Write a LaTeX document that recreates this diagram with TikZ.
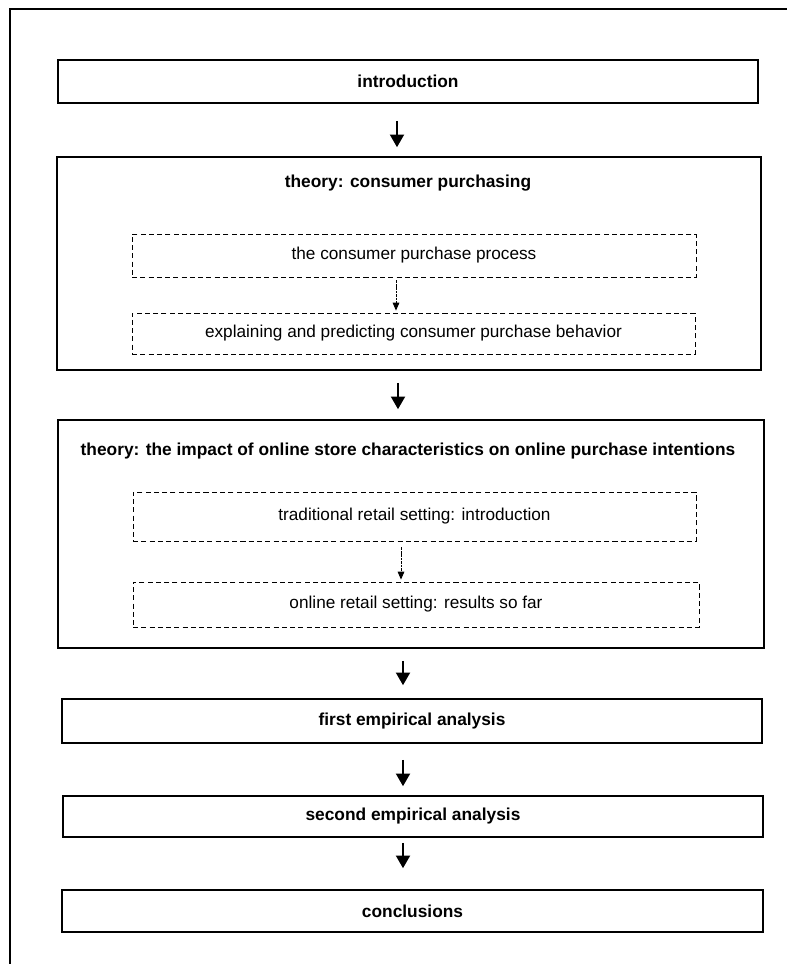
\documentclass[tikz,border=0pt]{standalone}
\usepackage{fontspec}
\setmainfont{Liberation Sans}
\usetikzlibrary{arrows.meta,calc}
\def\pxu{0.75pt}
\tikzset{
  frame/.style={line width=1.5pt},
  mainbox/.style={draw, line width=1.2pt, rectangle, inner sep=0pt},
  subbox/.style={draw, line width=0.6pt, dash pattern=on 3.8pt off 2.4pt, rectangle, inner sep=0pt},
  heading/.style={font=\fontsize{13}{15}\selectfont\bfseries, inner sep=0pt},
  plain/.style={font=\fontsize{12.9}{15}\selectfont, inner sep=0pt},
  flow/.style={line width=1.5pt, -{Triangle[width=10.5pt,length=9.5pt]}},
  subflow/.style={line width=0.7pt, dash pattern=on 2pt off 0.6pt, -{Triangle[width=5pt,length=6pt]}}
}
\begin{document}
\begin{tikzpicture}[x=\pxu, y=-\pxu]
\useasboundingbox (0,0) rectangle (787,964);
% outer frame, open towards the right and bottom
\draw[frame] (10,964) -- (10,9) -- (787,9);

% introduction
\node[mainbox, minimum width=700*\pxu, minimum height=43*\pxu] (intro) at (408,81.5) {};
\node[heading] at (intro) {introduction};

% theory: consumer purchasing
\node[mainbox, minimum width=704*\pxu, minimum height=213*\pxu] (th1) at (409,263.5) {};
\node[heading] (th1t) at (408,183) {theory: consumer purchasing};
\node[subbox, minimum width=564*\pxu, minimum height=43*\pxu] (s1) at (414,255.5) {};
\node[plain] at (s1) {the consumer purchase process};
\node[subbox, minimum width=563*\pxu, minimum height=41*\pxu] (s2) at (413.5,333.5) {};
\node[plain] at (s2) {explaining and predicting consumer purchase behavior};

% theory: online store characteristics
\node[mainbox, minimum width=706*\pxu, minimum height=228*\pxu] (th2) at (411,534) {};
\node[heading] (th2t) at (408,451) {theory: the impact of online store characteristics on online purchase intentions};
\node[subbox, minimum width=563*\pxu, minimum height=49*\pxu] (s3) at (414.5,516.5) {};
\node[plain] at (s3) {traditional retail setting: introduction};
\node[subbox, minimum width=566*\pxu, minimum height=45*\pxu] (s4) at (416,604.5) {};
\node[plain] at (s4) {online retail setting: results so far};

% empirical parts and conclusions
\node[mainbox, minimum width=700*\pxu, minimum height=44*\pxu] (emp1) at (412,721) {};
\node[heading] at (emp1) {first empirical analysis};
\node[mainbox, minimum width=700*\pxu, minimum height=41*\pxu] (emp2) at (413,816.5) {};
\node[heading] at (emp2) {second empirical analysis};
\node[mainbox, minimum width=701*\pxu, minimum height=42*\pxu] (concl) at (412.5,911) {};
\node[heading] at (concl) {conclusions};

% connectors
\draw[flow, shorten <=17*\pxu, shorten >=9*\pxu] ($(intro.south)+(-11,0)$) -- ($(th1.north)+(-12,0)$);
\draw[subflow, shorten <=3*\pxu, shorten >=2*\pxu] ($(s1.south)+(-18,0)$) -- ($(s2.north)+(-17.5,0)$);
\draw[flow, shorten <=12*\pxu, shorten >=10*\pxu] ($(th1.south)+(-11,0)$) -- ($(th2.north)+(-13,0)$);
\draw[subflow, shorten <=6*\pxu, shorten >=2*\pxu] ($(s3.south)+(-13.5,0)$) -- ($(s4.north)+(-15,0)$);
\draw[flow, shorten <=12*\pxu, shorten >=13*\pxu] ($(th2.south)+(-8,0)$) -- ($(emp1.north)+(-9,0)$);
\draw[flow, shorten <=16*\pxu, shorten >=9*\pxu] ($(emp1.south)+(-9,0)$) -- ($(emp2.north)+(-10,0)$);
\draw[flow, shorten <=5*\pxu, shorten >=21*\pxu] ($(emp2.south)+(-10,0)$) -- ($(concl.north)+(-9.5,0)$);
\end{tikzpicture}
\end{document}
